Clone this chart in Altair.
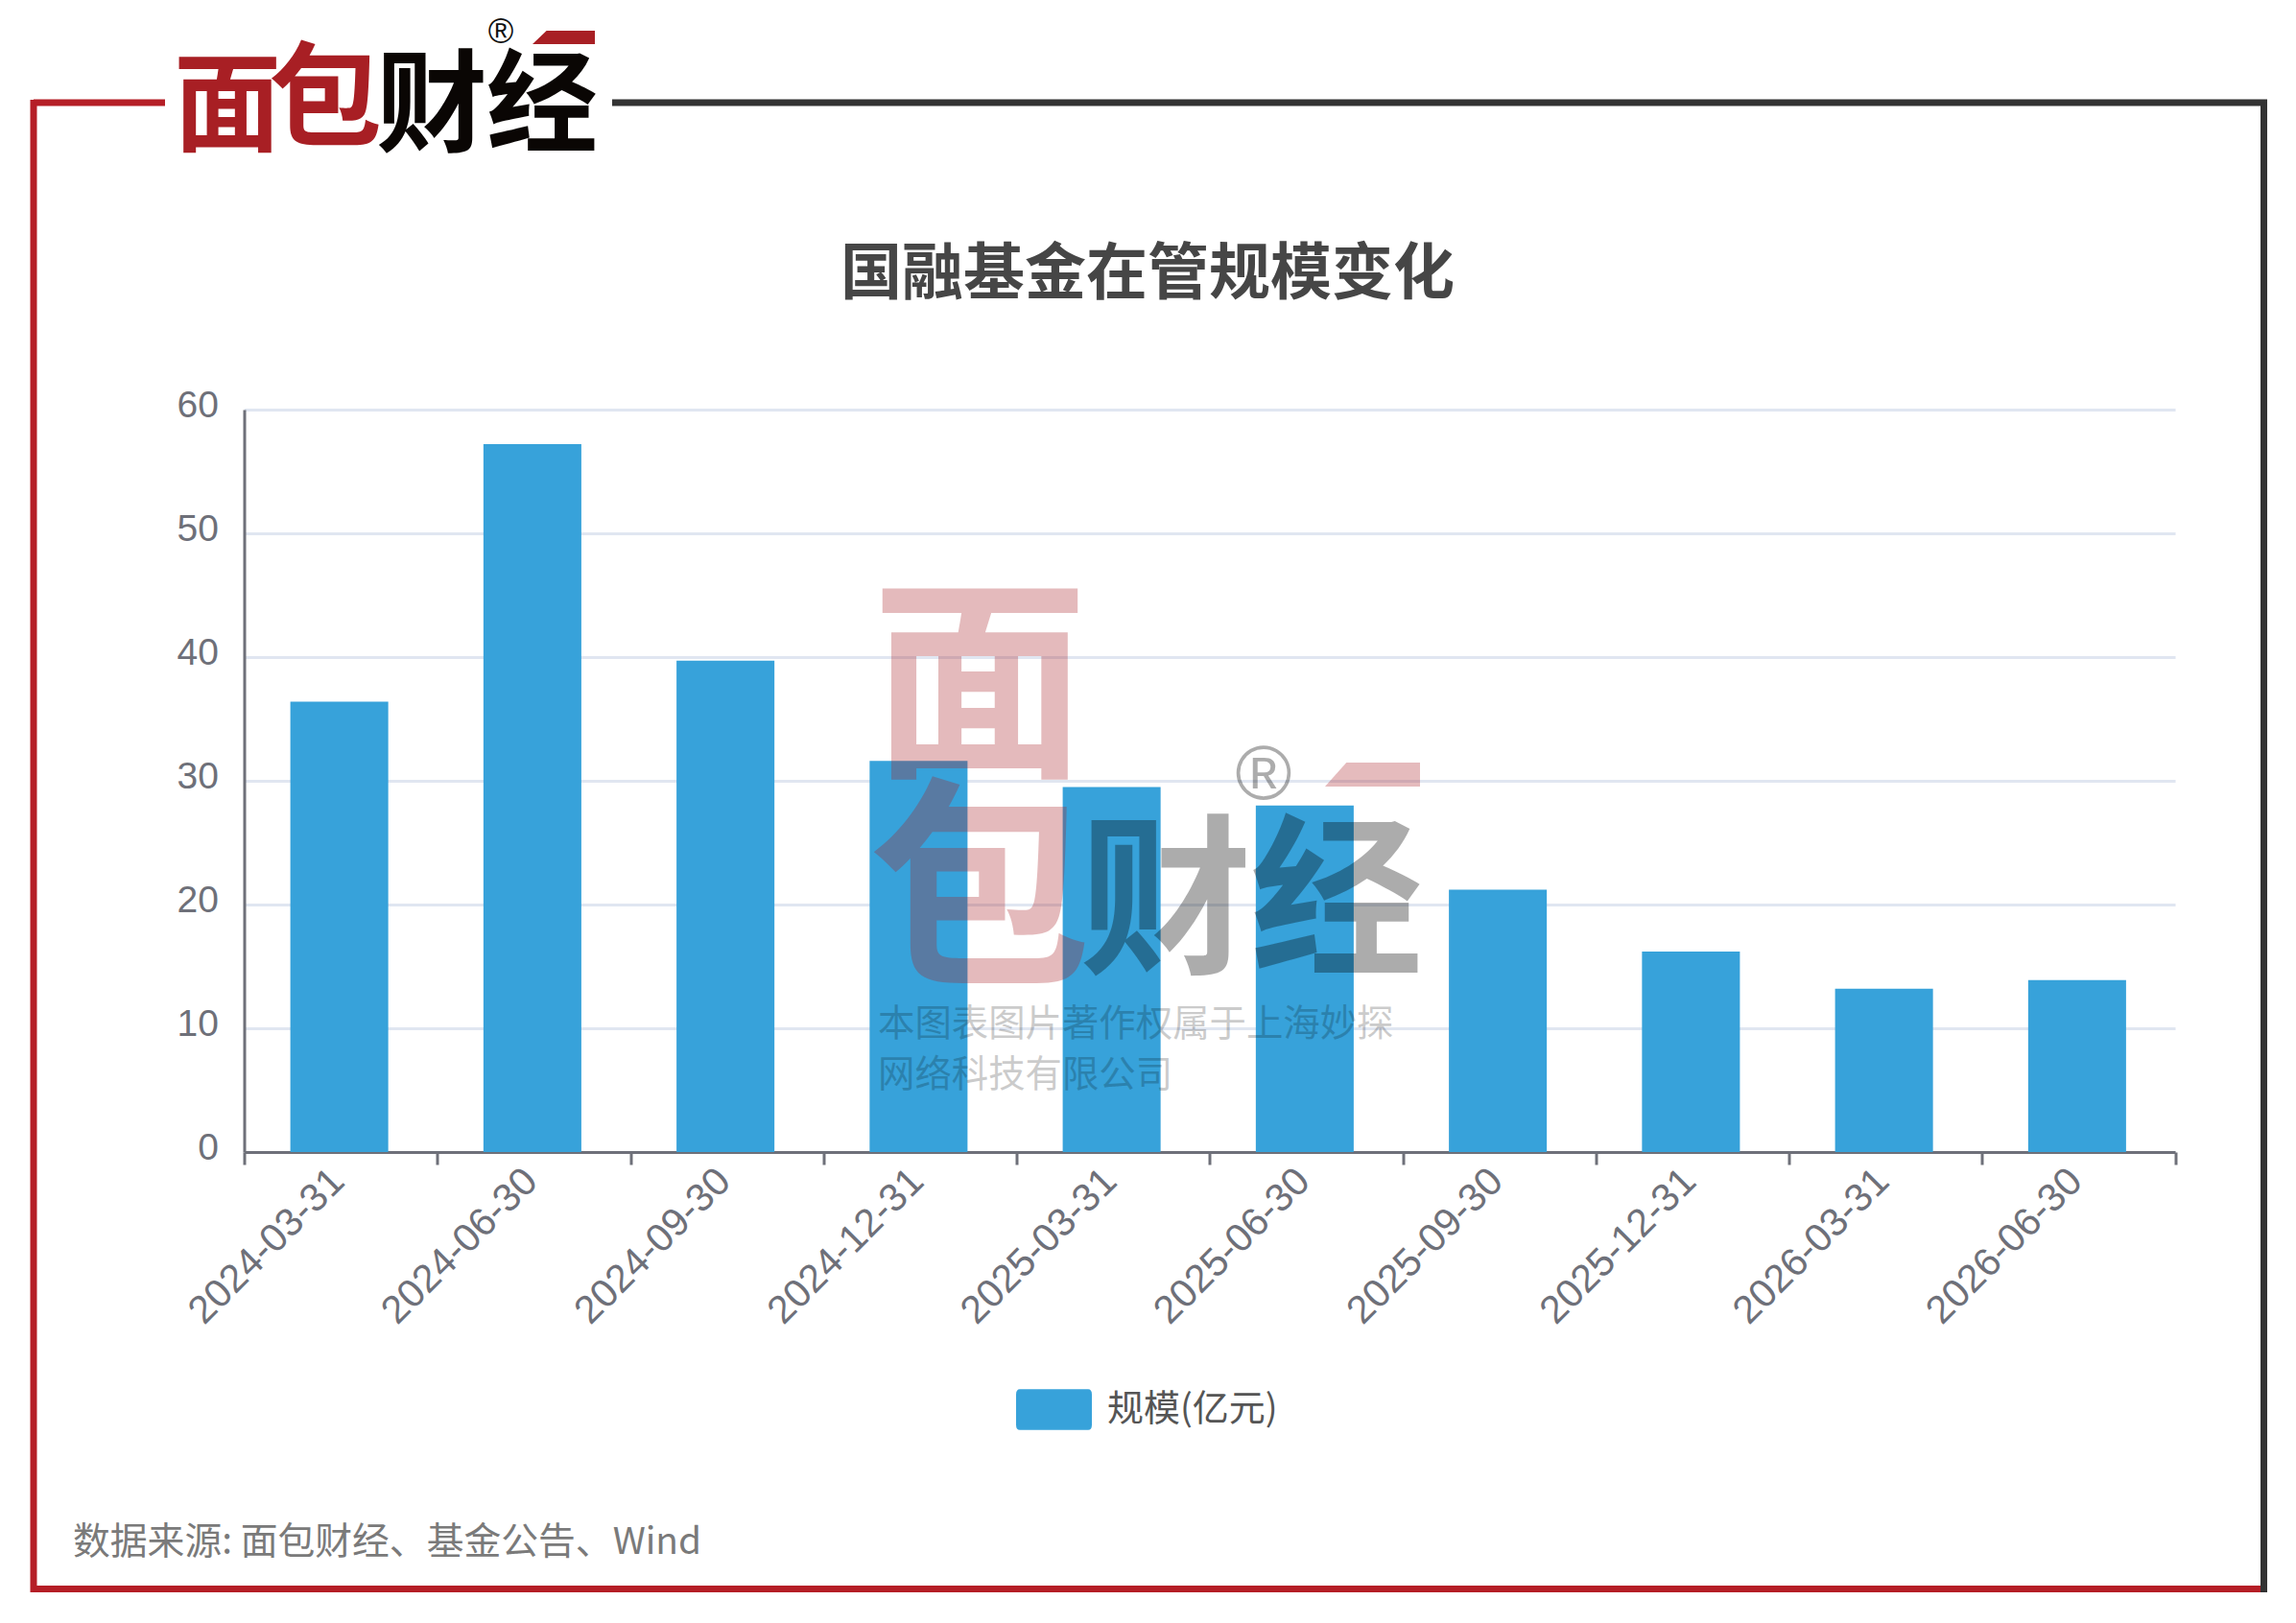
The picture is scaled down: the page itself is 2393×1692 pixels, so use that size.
import altair as alt
import pandas as pd

dates = ["2024-03-31","2024-06-30","2024-09-30","2024-12-31","2025-03-31",
         "2025-06-30","2025-09-30","2025-12-31","2026-03-31","2026-06-30"]
values = [36.4, 57.2, 39.7, 31.6, 29.5, 28.0, 21.2, 16.2, 13.2, 13.9]
series_name = "规模(亿元)"
title_text = "国融基金在管规模变化"
source_text = "数据来源: 面包财经、基金公告、Wind"
wm_lines = ["本图表图片著作权属于上海妙探", "网络科技有限公司"]

L, T, W, H = 254.5, 427, 2012.5, 774
CJK = "Noto Sans CJK SC"
LAT = "Liberation Sans"
RED, DARK, LOGO_RED = "#B51E26", "#333333", "#A81F24"
one = alt.Data(values=[{"k": 1}])

def px(x): return alt.value(x - L)
def py(y): return alt.value(y - T)

def txt(s, cx, cy, size, color, op=1.0, weight="normal", font=CJK, align="center"):
    return alt.Chart(one).mark_text(text=s, fontSize=size, color=color, opacity=op,
        fontWeight=weight, font=font, align=align, baseline="middle").encode(x=px(cx), y=py(cy))

def rule(x1, y1, x2, y2, color, w=7):
    return alt.Chart(one).mark_rule(color=color, strokeWidth=w).encode(
        x=px(x1), x2=px(x2), y=py(y1), y2=py(y2))

def para(cx, cy, w, h, color, op=1.0):
    k = h / w
    path = f"M-1,{k} L-0.55,{-k} L1,{-k} L1,{k} Z"
    return alt.Chart(one).mark_point(shape=path, filled=True, color=color, opacity=op,
        size=w * w, strokeWidth=0).encode(x=px(cx), y=py(cy))

df = pd.DataFrame({"date": dates, "value": values, "series": [series_name] * len(dates)})

bars = alt.Chart(df).mark_bar(width=alt.RelativeBandSize(band=0.507), xOffset=-1.5).encode(
    x=alt.X("date:N", sort=dates, title=None,
        scale=alt.Scale(paddingInner=0, paddingOuter=0),
        axis=alt.Axis(labelAngle=315, labelAlign="right", labelBaseline="middle",
            labelFont=LAT, labelFontSize=41, labelColor="#6E7079", labelPadding=11, labelOffset=-3,
            labelLimit=500, labelOverlap=False, labelBound=False, labelFlush=False,
            tickBand="extent", tickSize=13, tickWidth=3, tickColor="#6E7079",
            domainColor="#6E7079", domainWidth=3, grid=False)),
    y=alt.Y("value:Q", title=None,
        scale=alt.Scale(domain=[0, 60], nice=False),
        axis=alt.Axis(values=[0, 10, 20, 30, 40, 50, 60], labelFont=LAT, labelFontSize=39,
            labelColor="#6E7079", labelPadding=27, labelOffset=-5, tickSize=0,
            domainColor="#6E7079", domainWidth=3, grid=True, gridColor="#E0E6F1", gridWidth=3)),
    color=alt.Color("series:N",
        scale=alt.Scale(domain=[series_name], range=["#37A2DA"]),
        legend=alt.Legend(title=None, orient="none", legendX=804.5, legendY=1003,
            symbolType="M-0.9,-0.54 L0.9,-0.54 Q1,-0.54 1,-0.4 L1,0.4 Q1,0.54 0.9,0.54 L-0.9,0.54 Q-1,0.54 -1,0.4 L-1,-0.4 Q-1,-0.54 -0.9,-0.54 Z",
            symbolSize=6241, symbolStrokeWidth=0, labelFont=CJK, labelFontSize=38,
            labelColor="#555555", labelOffset=16, labelLimit=400)),
)

layers = [
    bars,
    # frame
    rule(35, 107, 172, 107, RED), rule(35, 104, 35, 1660, RED), rule(32, 1656.5, 2359, 1656.5, RED),
    rule(638, 107, 2363, 107, DARK), rule(2359.5, 104, 2359.5, 1660, DARK),
    # title
    txt(title_text, 1196, 287, 64, "#464646", weight="bold"),
    # logo
    txt("面", 237, 115, 112, LOGO_RED, weight="bold"),
    txt("包", 339, 108, 118, LOGO_RED, weight="bold"),
    txt("财", 450, 114, 116, "#0A0604", weight="bold"),
    txt("经", 565, 114, 116, "#0A0604", weight="bold"),
    para(587.5, 39, 65, 14, LOGO_RED),
    txt("®", 522, 34, 36, "#111111", font=LAT),
    # source
    txt(source_text, 76, 1607.5, 38.8, "#7A7A7A", align="left"),
    # watermark
    txt("面", 1021, 724, 225, LOGO_RED, op=0.3, weight="bold"),
    txt("包", 1021, 938, 232, LOGO_RED, op=0.3, weight="bold"),
    txt("财", 1215, 947, 180, "#000000", op=0.32, weight="bold"),
    txt("经", 1393, 947, 180, "#000000", op=0.32, weight="bold"),
    para(1430.5, 807.5, 99, 25, LOGO_RED, op=0.3),
    txt("®", 1317, 809, 80, "#000000", op=0.32, font=LAT),
    txt(wm_lines[0], 915, 1068, 38.4, "#000000", op=0.2, align="left"),
    txt(wm_lines[1], 915, 1121, 38.4, "#000000", op=0.2, align="left"),
]

chart = alt.layer(*layers).properties(
    width=W, height=H,
    autosize=alt.AutoSizeParams(type="none"),
    padding={"left": 246.5, "top": 419, "right": 118, "bottom": 483},
    background="white",
).configure_view(stroke=None)

chart.save("out.html", embed_options={"renderer": "svg", "actions": False})
